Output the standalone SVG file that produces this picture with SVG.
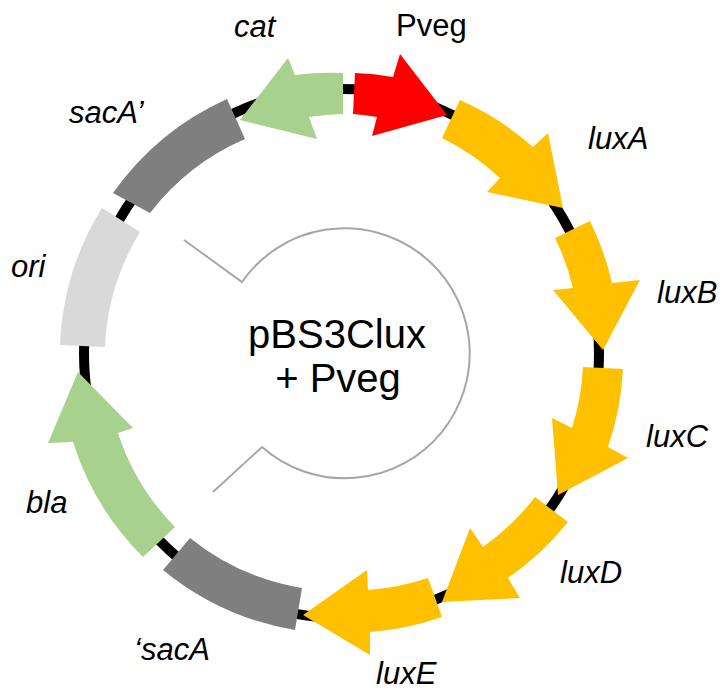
<svg xmlns="http://www.w3.org/2000/svg" width="725" height="691" viewBox="0 0 725 691">
<style>
.lbl{font-family:"Liberation Sans",Arial,sans-serif;font-size:31px;font-style:italic;fill:#000}
.up{font-style:normal}
.ctr{font-family:"Liberation Sans",Arial,sans-serif;font-size:40px;fill:#000;text-anchor:middle}
.orange{fill:#FFC000}
.green{fill:#A9D18E}
.gray{fill:#7F7F7F}
.lgray{fill:#D9D9D9}
.red{fill:#FF0000}
</style>
<rect width="725" height="691" fill="#fff"/>
<g id="backbone">
<ellipse cx="341.5" cy="353.5" rx="257.5" ry="264.5" fill="none" stroke="#000" stroke-width="10"/>
</g>
<g id="connectors">
<path d="M184 240 L242 282 A125 125 0 1 1 262 447 L213 492" fill="none" stroke="#A6A6A6" stroke-width="2"/>
</g>
<g id="Pveg">
<path class="red" d="M355 73 A281 281 0 0 1 393 77 L400 54 L447 115 L372 136 L377 117 A240 240 0 0 0 353 114 Z"/>
<text class="lbl up" x="396" y="36">Pveg</text>
</g>
<g id="cat">
<path class="green" d="M343 73 A281 281 0 0 0 295 75 L288 58 L240 120 L317 139 L309 117 A240 240 0 0 1 343 114 Z"/>
<text class="lbl" x="234" y="37">cat</text>
</g>
<g id="sacA_prime">
<path class="gray" d="M113 193 A281 281 0 0 1 227 99 L245 139 A240 240 0 0 0 150 213 Z"/>
<text class="lbl" x="69" y="123">sacA’</text>
</g>
<g id="ori">
<path class="lgray" d="M60 345 A281 281 0 0 1 102 208 L140 232 A240 240 0 0 0 105 347 Z"/>
<text class="lbl" x="11" y="277">ori</text>
</g>
<g id="bla">
<path class="green" d="M143 557 A281 281 0 0 1 73 442 L48 443 L78 372 L133 428 L118 433 A240 240 0 0 0 175 527 Z"/>
<text class="lbl" x="26" y="513">bla</text>
</g>
<g id="sacA">
<path class="gray" d="M295 630 A281 281 0 0 1 163 570 L190 538 A240 240 0 0 0 302 588 Z"/>
<text class="lbl" x="134" y="660">‘sacA</text>
</g>
<g id="luxE">
<path class="orange" d="M442 617 A281 281 0 0 1 370 632 L370 655 L303 615 L367 570 L368 590 A240 240 0 0 0 428 578 Z"/>
<text class="lbl" x="376" y="684">luxE</text>
</g>
<g id="luxD">
<path class="orange" d="M568 522 A281 281 0 0 1 508 578 L520 598 L442 602 L470 528 L483 547 A240 240 0 0 0 535 497 Z"/>
<text class="lbl" x="560" y="583">luxD</text>
</g>
<g id="luxC">
<path class="orange" d="M623 369 A281 281 0 0 1 608 447 L628 458 L558 495 L552 418 L572 428 A240 240 0 0 0 583 367 Z"/>
<text class="lbl" x="646" y="447">luxC</text>
</g>
<g id="luxB">
<path class="orange" d="M590 221 A281 281 0 0 1 612 283 L640 280 L603 350 L553 290 L573 288 A240 240 0 0 0 555 238 Z"/>
<text class="lbl" x="657" y="303">luxB</text>
</g>
<g id="luxA">
<path class="orange" d="M460 100 A281 281 0 0 1 533 147 L548 133 L563 208 L487 192 L500 178 A240 240 0 0 0 442 138 Z"/>
<text class="lbl" x="588" y="149">luxA</text>
</g>
<g id="title">
<text class="ctr" x="337" y="348">pBS3Clux</text>
<text class="ctr" x="338" y="392">+ Pveg</text>
</g>
</svg>
